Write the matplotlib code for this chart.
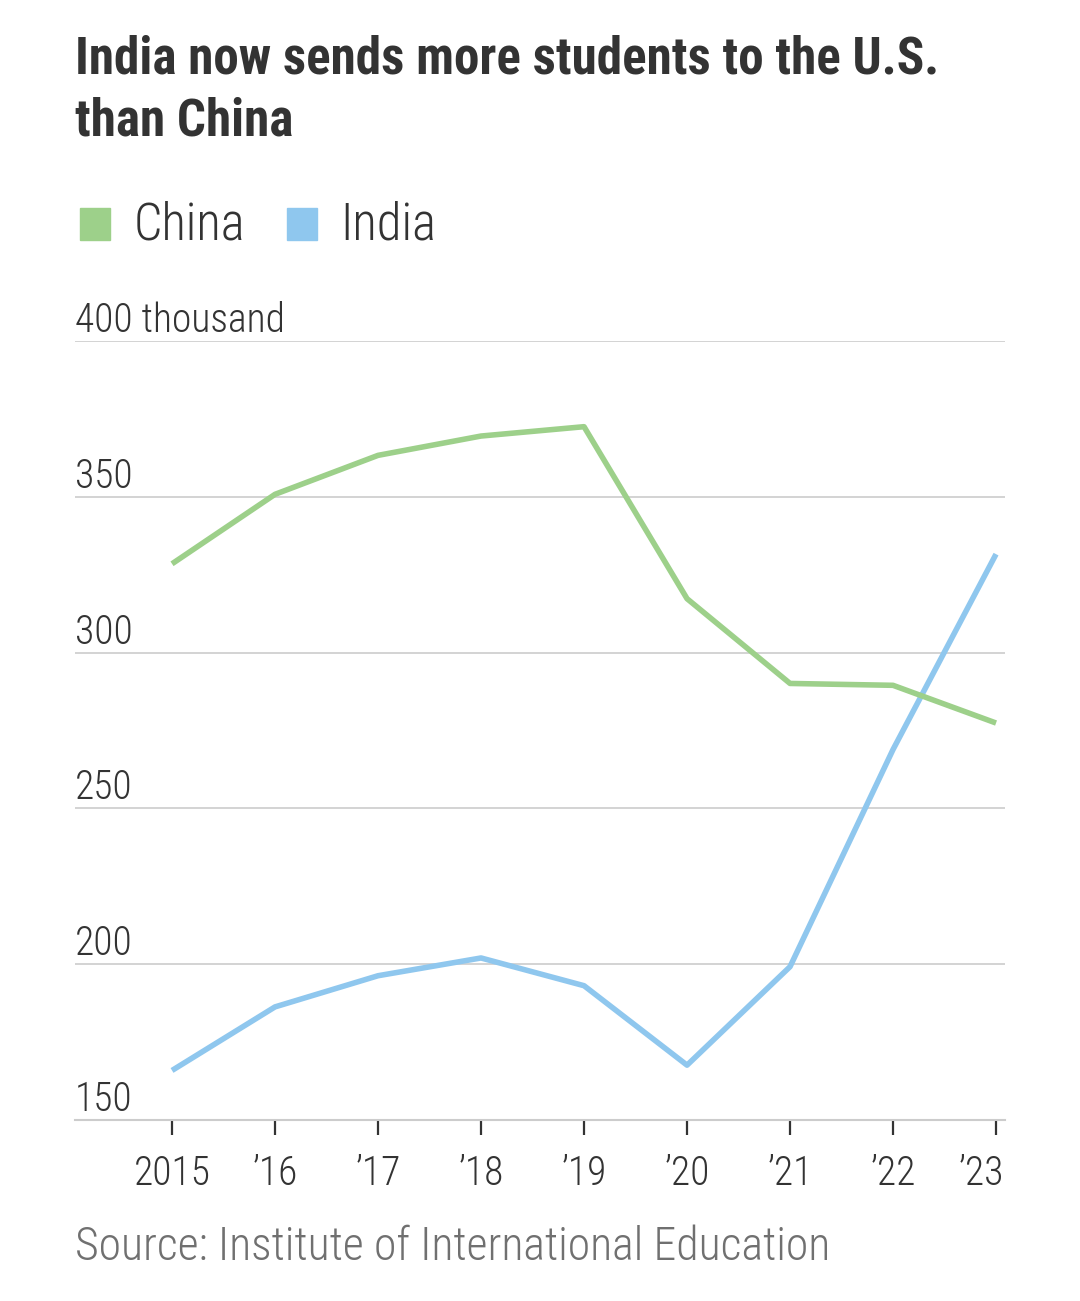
import matplotlib
matplotlib.use("Agg")
import matplotlib.pyplot as plt
from matplotlib.patches import Rectangle
from matplotlib.transforms import ScaledTranslation

years = [2015, 2016, 2017, 2018, 2019, 2020, 2021, 2022, 2023]
year_labels = ["2015", "\u201916", "\u201917", "\u201918", "\u201919",
               "\u201920", "\u201921", "\u201922", "\u201923"]
china = [328.5, 350.8, 363.3, 369.5, 372.5, 317.3, 290.1, 289.5, 277.4]
india = [165.9, 186.3, 196.3, 202.0, 193.1, 167.6, 199.2, 268.9, 331.6]
y_ticks = [150, 200, 250, 300, 350, 400]
y_labels = ["150", "200", "250", "300", "350", "400 thousand"]

# condensed faces first, plain Roboto if they are missing
plt.rcParams["font.family"] = ["Roboto Condensed", "Barlow Semi Condensed", "Roboto", "DejaVu Sans"]

green = "#9dd08a"
blue = "#8fc7ee"
dark = "#333333"

W, H = 1080, 1301
fig = plt.figure(figsize=(W / 100, H / 100), dpi=100)
fig.patch.set_facecolor("white")
renderer = fig.canvas.get_renderer()

def fx(px):
    return px / W

def fy(py):
    return 1 - py / H

def fit(t, width_px):
    # scale a text so that it spans the width seen in the reference
    w = t.get_window_extent(renderer).width
    t.set_fontsize(t.get_fontsize() * width_px / w)
    return t.get_fontsize()

ax = fig.add_axes([fx(75), fy(1120), fx(1005) - fx(75), fy(341) - fy(1120)])
ax.set_xlim(2014.058, 2023.087)
ax.set_ylim(150, 400)

ax.plot(years, india, color=blue, lw=4.0, solid_capstyle="butt", zorder=3)
ax.plot(years, china, color=green, lw=4.0, solid_capstyle="butt", zorder=3)

for v in y_ticks[1:]:
    ax.axhline(v, color="#cccccc", lw=1.2, zorder=1)

for s in ["top", "right", "left"]:
    ax.spines[s].set_visible(False)
ax.spines["bottom"].set_color("#cccccc")
ax.spines["bottom"].set_linewidth(1.5)

# tick label size from the width of "2015"
probe = fig.text(0, 0, "2015", fontsize=30, fontweight="light")
tick_fs = fit(probe, 77)
probe.remove()

ax.set_yticks([])
ax.set_xticks(years)
ax.set_xticklabels(year_labels, fontsize=tick_fs, color=dark, fontweight="light")
ax.tick_params(axis="x", length=11, width=1.6, color=dark, pad=14)
# last label is pulled in so it ends at the plot edge
last = ax.get_xticklabels()[-1]
last.set_transform(last.get_transform() + ScaledTranslation(-0.15, 0, fig.dpi_scale_trans))

for v, lab in zip(y_ticks, y_labels):
    ax.text(0, v + 2.9, lab, transform=ax.get_yaxis_transform(), ha="left", va="baseline",
            fontsize=tick_fs, color=dark, fontweight="light")

t1 = fig.text(fx(75), fy(74), "India now sends more students to the U.S.",
              fontweight="bold", fontsize=35, color=dark, ha="left", va="baseline")
title_fs = fit(t1, 865)
fig.text(fx(75), fy(136), "than China", fontweight="bold", fontsize=title_fs,
         color=dark, ha="left", va="baseline")

fig.patches.append(Rectangle((fx(80), fy(240)), fx(30), fy(208) - fy(240),
                             transform=fig.transFigure, color=green))
fig.patches.append(Rectangle((fx(287), fy(240)), fx(30), fy(208) - fy(240),
                             transform=fig.transFigure, color=blue))
lc = fig.text(fx(134), fy(240), "China", fontsize=34, color=dark, va="baseline", fontweight="light")
leg_fs = fit(lc, 112)
fig.text(fx(340), fy(240), "India", fontsize=leg_fs, color=dark, va="baseline", fontweight="light")

src = fig.text(fx(75), fy(1260), "Source: Institute of International Education",
               fontsize=29, color="#707070", va="baseline", fontweight="light")
fit(src, 753)

fig.savefig("out.png", dpi=100)
